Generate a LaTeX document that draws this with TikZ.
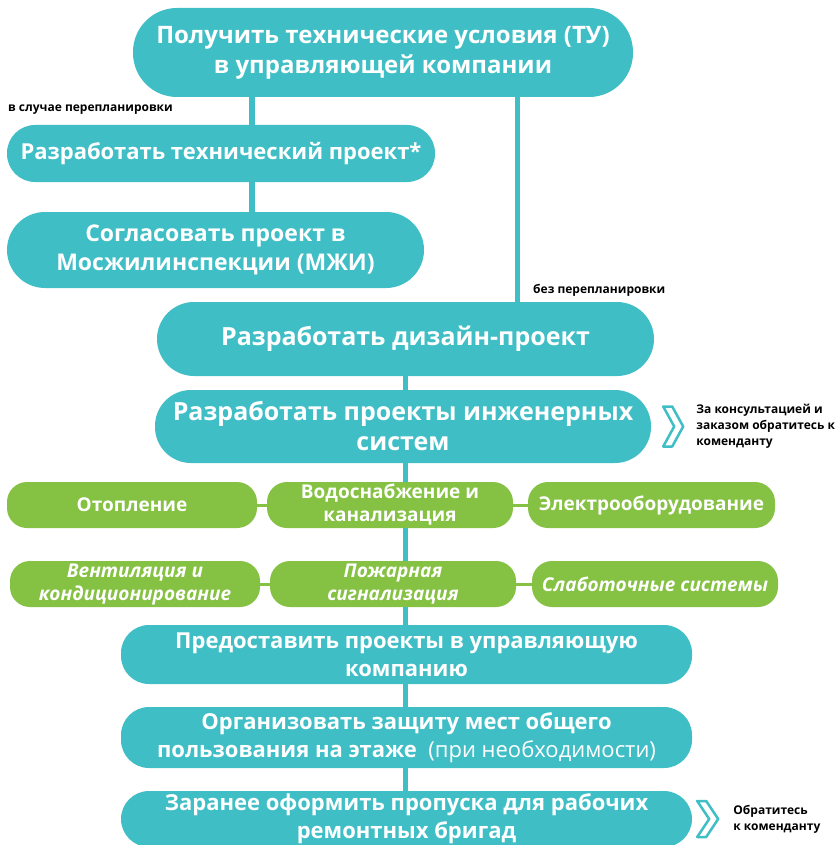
\documentclass[tikz,border=0pt]{standalone}
\usepackage{fontspec}
\setmainfont{Open Sans}
\usepackage{xcolor}
\usepackage{tikz}
\usetikzlibrary{positioning}

\tikzset{
  stepbox/.style={fill=tealc, text=white, align=center, inner sep=0pt},
  subbox/.style={fill=greenc, text=white, align=center, inner sep=0pt, rounded corners=20pt,
    minimum height=46pt, font=\fontsize{19}{23}\selectfont\bfseries},
  link/.style={draw=tealc, line width=5pt},
  glink/.style={draw=greenc, line width=3pt},
  note/.style={font=\fontsize{12}{16}\selectfont\bfseries, align=left, inner sep=0pt},
  chev/.style={draw=tealc, line width=2.5pt, line join=round, fill=white}
}

\begin{document}
\begin{tikzpicture}[x=1pt,y=-1pt]

% Define colors
\definecolor{tealc}{RGB}{64,190,198}
\definecolor{greenc}{RGB}{133,193,66}

\useasboundingbox (0,0) rectangle (839,845);

% Main steps
\node[stepbox, minimum width=500pt, minimum height=89pt, rounded corners=44pt,
  font=\fontsize{24}{30}\selectfont\bfseries] (tu) at (383,52.5)
  {Получить технические условия (ТУ)\\в управляющей компании};

\node[stepbox, minimum width=428pt, minimum height=57pt, rounded corners=28pt,
  font=\fontsize{22}{28}\selectfont\bfseries] (techproj) at (221,153.5)
  {Разработать технический проект*};

\node[stepbox, minimum width=417pt, minimum height=76pt, rounded corners=38pt,
  font=\fontsize{23}{29}\selectfont\bfseries] (mzhi) at (215.5,250)
  {Согласовать проект в\\Мосжилинспекции (МЖИ)};

\node[stepbox, minimum width=497pt, minimum height=74pt, rounded corners=37pt,
  font=\fontsize{25}{30}\selectfont\bfseries] (design) at (405.5,339)
  {Разработать дизайн-проект};

\node[stepbox, minimum width=496pt, minimum height=73pt, rounded corners=36pt,
  font=\fontsize{25}{30}\selectfont\bfseries] (engsys) at (403,426.5)
  {Разработать проекты инженерных\\систем};

% Engineering systems
\node[subbox, minimum width=250pt] (otop) at (132,505) {Отопление};
\node[subbox, minimum width=246pt] (vodo) at (390,505) {Водоснабжение и\\канализация};
\node[subbox, minimum width=247pt] (elektro) at (651.5,505) {Электрооборудование};

\node[subbox, minimum width=250pt, font=\fontsize{19}{23}\selectfont\bfseries\itshape] (vent) at (135,584)
  {Вентиляция и\\кондиционирование};
\node[subbox, minimum width=246pt, font=\fontsize{19}{23}\selectfont\bfseries\itshape] (pozhar) at (393,584)
  {Пожарная\\сигнализация};
\node[subbox, minimum width=246pt, font=\fontsize{19}{23}\selectfont\bfseries\itshape] (slabo) at (655,584)
  {Слаботочные системы};

% Final steps
\node[stepbox, minimum width=571pt, minimum height=59pt, rounded corners=28pt,
  font=\fontsize{22}{28}\selectfont\bfseries] (predost) at (406.5,654.5)
  {Предоставить проекты в управляющую\\компанию};

\node[stepbox, minimum width=571pt, minimum height=61pt, rounded corners=28pt,
  font=\fontsize{22}{28}\selectfont\bfseries] (zashita) at (406.5,737.5)
  {Организовать защиту мест общего\\пользования на этаже~ {\mdseries(при необходимости)}};

\node[stepbox, minimum width=571pt, minimum height=56pt, rounded corners=28pt,
  font=\fontsize{22}{28}\selectfont\bfseries] (propusk) at (406.5,819)
  {Заранее оформить пропуска для рабочих\\ремонтных бригад};

% Connectors
\coordinate (lx) at (252,0);
\coordinate (rx) at (517,0);
\coordinate (mx) at (405,0);

\draw[link, line width=6pt] (tu.south -| lx) -- (techproj.north -| lx);
\draw[link, line width=6pt] (techproj.south -| lx) -- (mzhi.north -| lx);
\draw[link] (tu.south -| rx) -- (design.north -| rx);
\draw[link] (design.south -| mx) -- (engsys.north -| mx);
\draw[link] (engsys.south -| mx) -- (vodo.north -| mx);
\draw[link] (vodo.south -| mx) -- (pozhar.north -| mx);
\draw[link] (pozhar.south -| mx) -- (predost.north -| mx);
\draw[link] (predost.south -| mx) -- (zashita.north -| mx);
\draw[link] (zashita.south -| mx) -- (propusk.north -| mx);

\draw[glink] (otop) -- (vodo);
\draw[glink] (vodo) -- (elektro);
\draw[glink] (vent) -- (pozhar);
\draw[glink] (pozhar) -- (slabo);

% Branch labels
\node[note, anchor=west] (replan) at (8,110) {в случае перепланировки};
\node[note, anchor=west] (noreplan) at (533,290) {без перепланировки};

% Side notes
\draw[chev] ([xshift=12pt]engsys.east) ++(0,-20) -- ++(9,0) -- ++(11,20) -- ++(-11,20)
  -- ++(-9,0) -- ++(11,-20) -- cycle;
\node[note, right=45pt of engsys] (note1) {За консультацией и\\заказом обратитесь к\\коменданту};

\draw[chev] ([xshift=5pt]propusk.east) ++(0,-18) -- ++(9,0) -- ++(12,18) -- ++(-12,18)
  -- ++(-9,0) -- ++(12,-18) -- cycle;
\node[note, right=41pt of propusk] (note2) {Обратитесь\\к коменданту};

\end{tikzpicture}
\end{document}
